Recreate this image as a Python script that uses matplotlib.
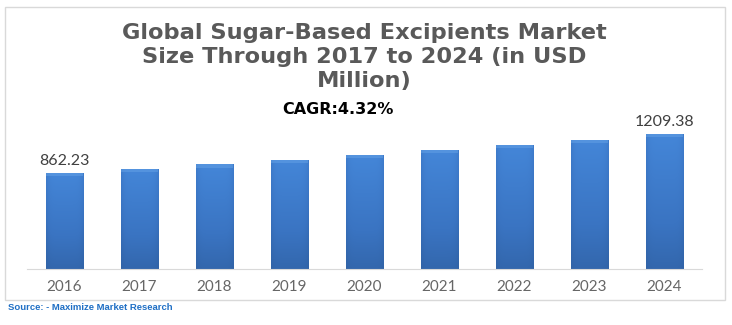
import numpy as np
import matplotlib.pyplot as plt
from matplotlib.colors import LinearSegmentedColormap
from matplotlib.patches import Rectangle

years = ["2016", "2017", "2018", "2019", "2020", "2021", "2022", "2023", "2024"]
values = [862.23, 899, 938, 979, 1021, 1065, 1111, 1159, 1209.38]
labelled = {0: "862.23", 8: "1209.38"}

title = "Global Sugar-Based Excipients Market\nSize Through 2017 to 2024 (in USD\nMillion)"
cagr = "CAGR:4.32%"
source = "Source: - Maximize Market Research"

W, H = 732, 325
fig = plt.figure(figsize=(W / 100, H / 100), dpi=100)

# outer frame
fig.patches.append(Rectangle((5 / W, 1 - 300 / H), 720 / W, 293 / H, transform=fig.transFigure,
                             fill=False, edgecolor="#d9d9d9", linewidth=1))

ax = fig.add_axes([27 / W, 1 - 269 / H, 675 / W, 145 / H])
for s in ["top", "right", "left"]:
    ax.spines[s].set_visible(False)
ax.spines["bottom"].set_color("#d9d9d9")
ax.set_yticks([])
ax.set_xticks(range(len(years)))
ax.set_xticklabels(years, fontfamily="Lato", fontsize=11, color="#666666")
ax.tick_params(axis="x", length=0, pad=8)

# gradient for the bars: darker towards the bottom and at the edges
cmap = LinearSegmentedColormap.from_list("bar", ["#2c5a98", "#3a74c2", "#4486d8"])
gx = np.linspace(-1, 1, 60)
gy = np.linspace(0, 1, 200)[:, None]
edge = 1 - 0.3 * np.abs(gx) ** 6
grad = (0.25 + 0.75 * gy) * edge[None, :]

bw = 0.5
for i, v in enumerate(values):
    rect = Rectangle((i - bw / 2, 0), bw, v, facecolor="none", edgecolor="none")
    ax.add_patch(rect)
    im = ax.imshow(grad, cmap=cmap, vmin=0, vmax=1, origin="lower", aspect="auto",
                   extent=(i - bw / 2, i + bw / 2, 0, v), zorder=2)
    im.set_clip_path(rect)
    # bevel on top
    top = Rectangle((i - bw / 2, v - 28), bw, 28, facecolor="#6aa6e8", edgecolor="none",
                    alpha=0.45, zorder=3)
    ax.add_patch(top)
    if i in labelled:
        ax.text(i, v + 45, labelled[i], ha="center", va="bottom", fontfamily="Lato",
                fontsize=11.5, color="#404040")

ax.set_xlim(-0.5, len(years) - 0.5)
ax.set_ylim(0, 1300)

fig.text(364 / W, 1 - 57 / H, title, ha="center", va="center", fontfamily="DejaVu Sans",
         fontweight="bold", fontsize=16.2, color="#595959", linespacing=1.27)
fig.text(338 / W, 1 - 110 / H, cagr, ha="center", va="center", fontfamily="DejaVu Sans",
         fontweight="bold", fontsize=11.5, color="#000000")
fig.text(8 / W, 1 - 308 / H, source, ha="left", va="center", fontfamily="Liberation Sans",
         fontweight="bold", fontsize=6.8, color="#1f6fc5")

fig.savefig("out.png", dpi=100)
